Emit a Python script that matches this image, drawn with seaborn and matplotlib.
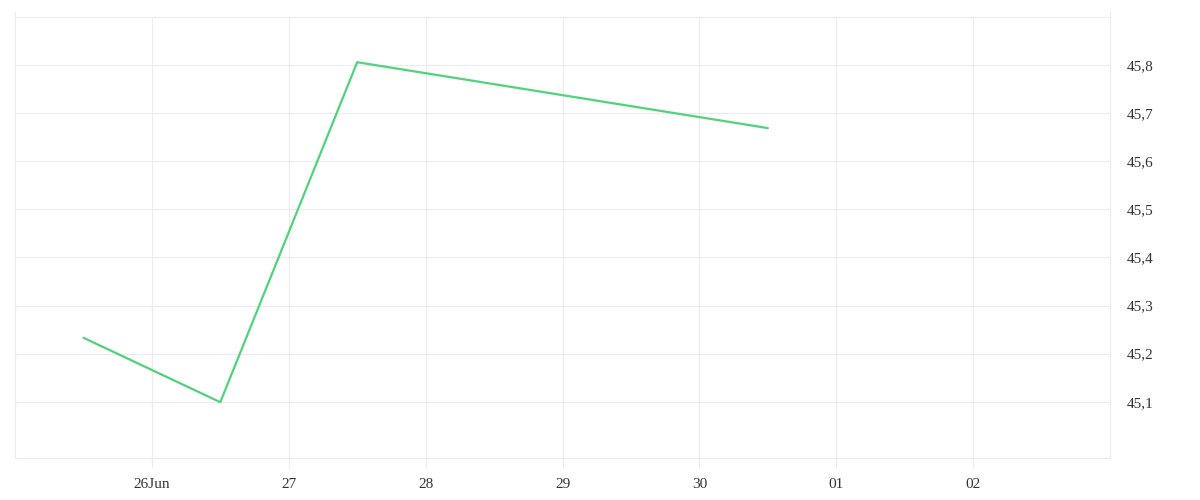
import matplotlib
matplotlib.use("Agg")
import matplotlib.pyplot as plt
import matplotlib.dates as mdates
import seaborn as sns
import pandas as pd
from matplotlib.ticker import FixedLocator, FixedFormatter, FuncFormatter

dates = ["2023-06-25 12:00", "2023-06-26 12:00", "2023-06-27 12:00", "2023-06-30 12:00"]
values = [45.233, 45.099, 45.806, 45.669]
tick_dates = ["2023-06-26", "2023-06-27", "2023-06-28", "2023-06-29", "2023-06-30", "2023-07-01", "2023-07-02"]
tick_labels = ["26Jun", "27", "28", "29", "30", "01", "02"]
y_ticks = [45.1, 45.2, 45.3, 45.4, 45.5, 45.6, 45.7, 45.8]

df = pd.DataFrame({"date": pd.to_datetime(dates), "value": values})

sns.set_theme(style="white")
plt.rcParams['font.family'] = ['Liberation Serif', 'DejaVu Serif']

fig = plt.figure(figsize=(12, 5), dpi=100)
ax = fig.add_axes([15/1200, 42/500, (1110-15)/1200, (458-17)/500])

grid_c = "#ececec"
sns.lineplot(data=df, x="date", y="value", ax=ax, color="#4fd37b", linewidth=1.6)

ax.set_xlim(pd.Timestamp("2023-06-25"), pd.Timestamp("2023-07-03"))
ax.set_ylim(44.983, 45.9)

xt = [mdates.date2num(pd.Timestamp(d)) for d in tick_dates]
ax.xaxis.set_major_locator(FixedLocator(xt))
ax.xaxis.set_major_formatter(FixedFormatter(tick_labels))
ax.yaxis.set_major_locator(FixedLocator(y_ticks))
ax.yaxis.set_major_formatter(FuncFormatter(lambda v, p: f"{v:.1f}".replace(".", ",")))

ax.yaxis.tick_right()
ax.grid(True, color=grid_c, linewidth=0.8)
for s in ax.spines.values():
    s.set_color(grid_c)
    s.set_linewidth(0.8)

# small extensions of the vertical lines above the plot area
for xv in [0.0, 1.0]:
    ax.plot([xv, xv], [1.0, 1.012], transform=ax.transAxes, color=grid_c,
            linewidth=0.8, clip_on=False)

ax.tick_params(axis="x", bottom=True, length=7, width=0.8, color=grid_c, pad=7.5,
               labelsize=11, labelcolor="#333333")
ax.tick_params(axis="y", right=True, left=False, length=0, pad=12,
               labelsize=11, labelcolor="#333333")
ax.set_xlabel("")
ax.set_ylabel("")

fig.savefig("out.png", dpi=100, facecolor="white")
